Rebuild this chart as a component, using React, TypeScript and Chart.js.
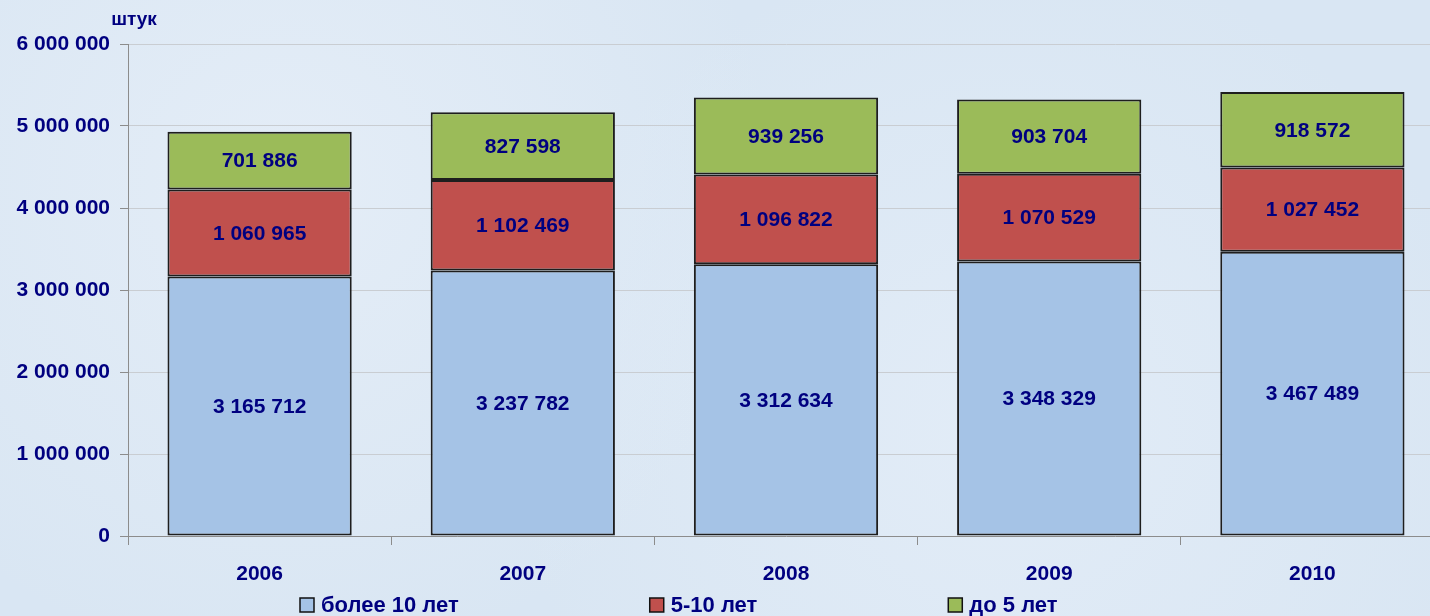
import { useEffect, useRef } from "react";
import { Chart, registerables } from "chart.js";
Chart.register(...registerables);

const years = ["2006", "2007", "2008", "2009", "2010"];
const over10 = [3165712, 3237782, 3312634, 3348329, 3467489];
const from5to10 = [1060965, 1102469, 1096822, 1070529, 1027452];
const under5 = [701886, 827598, 939256, 903704, 918572];
const seriesNames = ["более 10 лет", "5-10 лет", "до 5 лет"];
const seriesColors = ["#a5c3e6", "#c0504d", "#9bbb59"];
const yMax = 6000000;
const yStep = 1000000;
const unitLabel = "штук";

const NAVY = "#000080";
const FONT = "'Liberation Sans', Arial, sans-serif";

const fmt = (n: number) => String(Math.round(n)).replace(/\B(?=(\d{3})+(?!\d))/g, " ");

const overlayPlugin = {
  id: "overlay",
  afterDatasetsDraw(chart: any) {
    const ctx = chart.ctx;
    ctx.save();
    ctx.fillStyle = NAVY;
    ctx.font = `bold 21px ${FONT}`;
    ctx.textAlign = "center";
    ctx.textBaseline = "middle";
    chart.data.datasets.forEach((ds: any, di: number) => {
      const meta = chart.getDatasetMeta(di);
      meta.data.forEach((bar: any, i: number) => {
        const v = ds.data[i];
        ctx.fillText(fmt(v), bar.x, (bar.y + bar.base) / 2 + 1);
      });
    });
    ctx.restore();
  },
  afterDraw(chart: any) {
    const ctx = chart.ctx;
    ctx.save();
    ctx.fillStyle = NAVY;
    ctx.font = `bold 19px ${FONT}`;
    ctx.textAlign = "center";
    ctx.textBaseline = "middle";
    ctx.fillText(unitLabel, chart.chartArea.left + 6, 20);

    // legend
    ctx.font = `bold 22px ${FONT}`;
    ctx.textAlign = "left";
    let x = 300;
    const y = 605;
    const box = 14;
    seriesNames.forEach((name, i) => {
      ctx.fillStyle = seriesColors[i];
      ctx.fillRect(x, y - box / 2, box, box);
      ctx.strokeStyle = "#111";
      ctx.lineWidth = 1.5;
      ctx.strokeRect(x, y - box / 2, box, box);
      ctx.fillStyle = NAVY;
      ctx.fillText(name, x + box + 7, y + 1);
      const w = ctx.measureText(name).width;
      x += box + 7 + w + 191;
    });
    ctx.restore();
  },
};

export default function App() {
  const ref = useRef<HTMLCanvasElement | null>(null);
  useEffect(() => {
    if (!ref.current) return;
    const mk = (label: string, data: number[], color: string) => ({
      label,
      data,
      backgroundColor: color,
      borderColor: "#1e1e1e",
      borderWidth: 2,
      borderSkipped: false,
      barPercentage: 0.7,
      categoryPercentage: 1,
    });
    const chart = new Chart(ref.current, {
      type: "bar",
      data: {
        labels: years,
        datasets: [
          mk(seriesNames[0], over10, seriesColors[0]),
          mk(seriesNames[1], from5to10, seriesColors[1]),
          mk(seriesNames[2], under5, seriesColors[2]),
        ],
      },
      options: {
        animation: false,
        responsive: false,
        maintainAspectRatio: false,
        layout: { padding: { top: 44, right: 0, left: 0, bottom: 0 } },
        plugins: {
          legend: { display: false },
          tooltip: { enabled: false },
        },
        scales: {
          x: {
            stacked: true,
            offset: true,
            afterFit(scale: any) {
              scale.height = 80;
            },
            grid: {
              offset: true,
              drawOnChartArea: false,
              drawTicks: true,
              tickLength: 9,
              color: "#8c8c8c",
            },
            border: { color: "#8c8c8c", width: 1 },
            ticks: {
              color: NAVY,
              font: { family: FONT, size: 21, weight: "bold" },
              padding: 17,
            },
          },
          y: {
            stacked: true,
            min: 0,
            max: yMax,
            afterFit(scale: any) {
              scale.width = 128;
            },
            grid: {
              color: "#c9cdd2",
              lineWidth: 1,
              tickLength: 8,
              tickColor: "#8c8c8c",
            },
            border: { color: "#8c8c8c", width: 1 },
            ticks: {
              stepSize: yStep,
              color: NAVY,
              font: { family: FONT, size: 21, weight: "bold" },
              padding: 10,
              callback: (v: any) => fmt(Number(v)),
            },
          },
        },
      },
      plugins: [overlayPlugin],
    } as any);
    return () => chart.destroy();
  }, []);
  return (
    <div
      style={{
        position: "fixed",
        left: 0,
        top: 0,
        width: 1430,
        height: 616,
        overflow: "hidden",
        background:
          "radial-gradient(circle at 20% 30%, #e4edf7 0%, transparent 40%), radial-gradient(circle at 70% 70%, #e2ecf7 0%, transparent 45%), #d9e6f3",
      }}
    >
      <canvas ref={ref} width={1444} height={616} style={{ display: "block" }} />
    </div>
  );
}
